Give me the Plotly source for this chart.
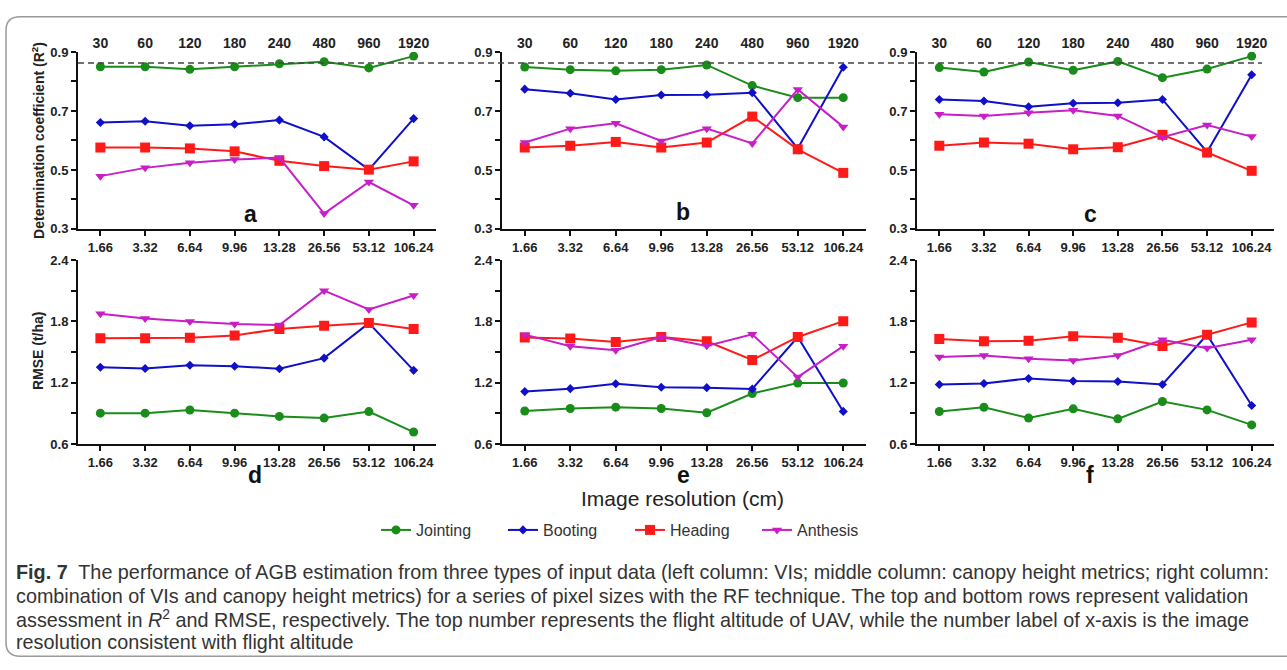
import plotly.graph_objects as go

W, H = 1287, 670

resolution = ["1.66", "3.32", "6.64", "9.96", "13.28", "26.56", "53.12", "106.24"]
altitude = ["30", "60", "120", "180", "240", "480", "960", "1920"]
stages = ["Jointing", "Booting", "Heading", "Anthesis"]

# (a) R2 - VIs
a_jointing = [0.850, 0.850, 0.841, 0.850, 0.860, 0.867, 0.846, 0.886]
a_booting = [0.661, 0.665, 0.650, 0.655, 0.669, 0.612, 0.501, 0.674]
a_heading = [0.576, 0.576, 0.573, 0.563, 0.531, 0.513, 0.501, 0.529]
a_anthesis = [0.479, 0.507, 0.524, 0.535, 0.542, 0.352, 0.459, 0.380]
# (b) R2 - canopy height metrics
b_jointing = [0.849, 0.840, 0.836, 0.840, 0.856, 0.786, 0.745, 0.745]
b_booting = [0.774, 0.760, 0.739, 0.754, 0.755, 0.762, 0.573, 0.848]
b_heading = [0.576, 0.582, 0.595, 0.576, 0.593, 0.681, 0.570, 0.490]
b_anthesis = [0.593, 0.640, 0.658, 0.598, 0.640, 0.590, 0.773, 0.646]
# (c) R2 - combination
c_jointing = [0.847, 0.832, 0.866, 0.838, 0.868, 0.813, 0.842, 0.886]
c_booting = [0.739, 0.734, 0.714, 0.726, 0.728, 0.739, 0.561, 0.823]
c_heading = [0.582, 0.593, 0.589, 0.570, 0.577, 0.619, 0.559, 0.497]
c_anthesis = [0.689, 0.683, 0.694, 0.702, 0.683, 0.611, 0.652, 0.613]
# (d) RMSE - VIs
d_jointing = [0.902, 0.902, 0.933, 0.902, 0.870, 0.854, 0.917, 0.717]
d_booting = [1.352, 1.340, 1.371, 1.362, 1.337, 1.441, 1.784, 1.321]
d_heading = [1.635, 1.635, 1.641, 1.663, 1.727, 1.759, 1.784, 1.727]
d_anthesis = [1.876, 1.829, 1.800, 1.775, 1.765, 2.102, 1.917, 2.054]
# (e) RMSE - canopy height metrics
e_jointing = [0.923, 0.948, 0.961, 0.948, 0.906, 1.094, 1.197, 1.197]
e_booting = [1.113, 1.142, 1.190, 1.155, 1.152, 1.139, 1.648, 0.919]
e_heading = [1.642, 1.632, 1.600, 1.648, 1.606, 1.423, 1.648, 1.803]
e_anthesis = [1.671, 1.558, 1.519, 1.648, 1.561, 1.674, 1.255, 1.558]
# (f) RMSE - combination
f_jointing = [0.918, 0.960, 0.855, 0.944, 0.846, 1.016, 0.934, 0.787]
f_booting = [1.183, 1.193, 1.242, 1.216, 1.212, 1.183, 1.670, 0.977]
f_heading = [1.628, 1.605, 1.611, 1.654, 1.641, 1.559, 1.670, 1.791]
f_anthesis = [1.451, 1.467, 1.435, 1.418, 1.467, 1.621, 1.539, 1.621]

r2_threshold = 0.863
panel_letters = ["a", "b", "c", "d", "e", "f"]

panels = [
    [a_jointing, a_booting, a_heading, a_anthesis],
    [b_jointing, b_booting, b_heading, b_anthesis],
    [c_jointing, c_booting, c_heading, c_anthesis],
    [d_jointing, d_booting, d_heading, d_anthesis],
    [e_jointing, e_booting, e_heading, e_anthesis],
    [f_jointing, f_booting, f_heading, f_anthesis],
]

colors = ["#1a8c1a", "#1010c8", "#ff1a1a", "#c81ec8"]
symbols = ["circle", "diamond", "square", "triangle-down"]
msizes = [9, 7, 10, 9]

FONT = "Liberation Sans, Arial, sans-serif"

def px_x(x):
    return x / W

def px_y(y):
    return 1 - y / H

col_px = [(78, 436), (502, 866), (917, 1274)]
row_px = [(46, 227), (259, 447)]

fig = go.Figure()

for p in range(6):
    ax = "" if p == 0 else str(p + 1)
    for s in range(4):
        fig.add_trace(go.Scatter(
            x=resolution, y=panels[p][s], name=stages[s],
            mode="lines+markers",
            line=dict(color=colors[s], width=2),
            marker=dict(symbol=symbols[s], size=msizes[s], color=colors[s]),
            xaxis="x" + ax, yaxis="y" + ax,
            legendgroup=stages[s], showlegend=(p == 0),
        ))

layout = dict(
    width=W, height=H,
    margin=dict(l=0, r=0, t=0, b=0),
    paper_bgcolor="white", plot_bgcolor="white",
    font=dict(family=FONT, color="#222"),
    showlegend=True,
    legend=dict(orientation="h", x=px_x(376), y=px_y(535), xanchor="left", yanchor="middle",
                entrywidth=82, entrywidthmode="pixels",
                font=dict(family=FONT, size=16, color="#333"), bgcolor="rgba(0,0,0,0)"),
)

for p in range(6):
    r, c = divmod(p, 3)
    ax = "" if p == 0 else str(p + 1)
    x0, x1 = col_px[c]
    y0, y1 = row_px[r]
    if r == 0:
        yrng, t0, dt, mdt, fmt = [0.3, 0.9], 0.3, 0.2, 0.1, ".1f"
    else:
        yrng, t0, dt, mdt, fmt = [0.6, 2.4], 0.6, 0.6, 0.3, ".1f"
    layout["xaxis" + ax] = dict(
        domain=[px_x(x0), px_x(x1)], anchor="y" + ax, type="category",
        categoryorder="array", categoryarray=resolution, range=[-0.5, 7.5],
        showline=True, linecolor="#111", linewidth=2, ticks="outside", ticklen=5,
        tickwidth=1.5, tickcolor="#111", showgrid=False, zeroline=False,
        tickfont=dict(family=FONT, size=13, color="#222", weight="bold"),
        fixedrange=True,
    )
    layout["yaxis" + ax] = dict(
        domain=[px_y(y1), px_y(y0)], anchor="x" + ax, range=yrng,
        tickmode="linear", tick0=t0, dtick=dt, tickformat=fmt,
        minor=dict(tick0=t0, dtick=mdt, ticks="outside", ticklen=5, tickwidth=1.5,
                   tickcolor="#111", showgrid=False),
        showline=True, linecolor="#111", linewidth=2, ticks="outside", ticklen=5,
        tickwidth=1.5, tickcolor="#111", showgrid=False, zeroline=False,
        tickfont=dict(family=FONT, size=13, color="#222", weight="bold"),
        fixedrange=True,
    )

# top axes for flight altitude
for c in range(3):
    n = 7 + c
    base = "x" if c == 0 else "x" + str(c + 1)
    yb = "y" if c == 0 else "y" + str(c + 1)
    layout["xaxis" + str(n)] = dict(
        overlaying=base, side="top", anchor=yb, range=[-0.5, 7.5],
        tickvals=list(range(len(altitude))), ticktext=altitude,
        showline=False, ticks="", showgrid=False, zeroline=False,
        tickfont=dict(family=FONT, size=14, color="#222", weight="bold"),
        fixedrange=True,
    )
    fig.add_trace(go.Scatter(x=list(range(len(altitude))), y=[None] * len(altitude),
                             xaxis="x" + str(n), yaxis=yb, showlegend=False,
                             hoverinfo="skip", mode="markers"))

fig.update_layout(**layout)

# threshold dashed line
fig.add_shape(type="line", xref="paper", yref="y", x0=px_x(78), x1=px_x(1262),
              y0=r2_threshold, y1=r2_threshold,
              line=dict(color="#444", width=1.5, dash="6px,4px"))

# frame
fig.add_shape(type="path", xref="paper", yref="paper",
              path=f"M {px_x(1300)} {px_y(10)} L {px_x(20)} {px_y(10)} "
                   f"Q {px_x(6)} {px_y(10)} {px_x(6)} {px_y(24)} "
                   f"L {px_x(6)} {px_y(650)} Q {px_x(6)} {px_y(664)} {px_x(20)} {px_y(664)} "
                   f"L {px_x(1300)} {px_y(664)}",
              line=dict(color="#9a9a9a", width=1.5))

ann = []
letter_pos = [(250, 212), (683, 210), (1090, 212), (255, 479), (683, 479), (1090, 479)]
for L, (lx, ly) in zip(panel_letters, letter_pos):
    ann.append(dict(text=L, x=px_x(lx), y=px_y(ly), xref="paper", yref="paper",
                    showarrow=False, xanchor="center", yanchor="middle",
                    font=dict(family=FONT, size=23, color="#111", weight="bold")))

ann.append(dict(text="Determination coefficient (R<sup>2</sup>)", x=px_x(38), y=px_y(137),
                xref="paper", yref="paper", showarrow=False, textangle=-90,
                xanchor="center", yanchor="middle",
                font=dict(family=FONT, size=14, color="#222", weight="bold")))
ann.append(dict(text="RMSE (t/ha)", x=px_x(38), y=px_y(352),
                xref="paper", yref="paper", showarrow=False, textangle=-90,
                xanchor="center", yanchor="middle",
                font=dict(family=FONT, size=14, color="#222", weight="bold")))
ann.append(dict(text="Image resolution (cm)", x=px_x(682), y=px_y(503),
                xref="paper", yref="paper", showarrow=False,
                xanchor="center", yanchor="middle",
                font=dict(family=FONT, size=21, color="#222")))

caption = [
    "<b>Fig. 7</b>  The performance of AGB estimation from three types of input data (left column: VIs; middle column: canopy height metrics; right column:",
    "combination of VIs and canopy height metrics) for a series of pixel sizes with the RF technique. The top and bottom rows represent validation",
    "assessment in <i>R</i><sup>2</sup> and RMSE, respectively. The top number represents the flight altitude of UAV, while the number label of x-axis is the image",
    "resolution consistent with flight altitude",
]
cap_y = [578, 602, 626, 650]
for t, cy in zip(caption, cap_y):
    ann.append(dict(text=t, x=px_x(14), y=px_y(cy), xref="paper", yref="paper",
                    showarrow=False, xanchor="left", yanchor="middle", align="left",
                    font=dict(family=FONT, size=19.8, color="#333")))

fig.update_layout(annotations=ann)
fig.write_html("out.html")
